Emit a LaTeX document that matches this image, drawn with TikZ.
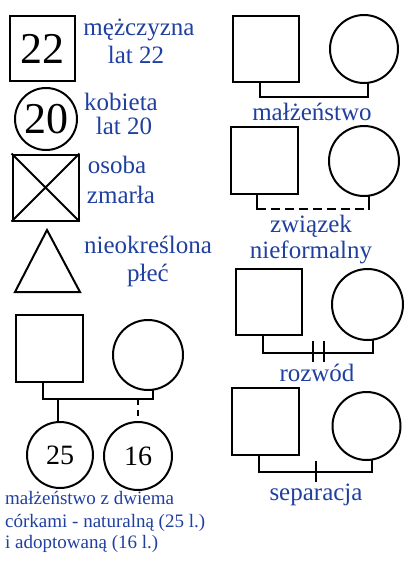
\documentclass[tikz,border=0pt]{standalone}
\usepackage{fontspec}
\setmainfont{Liberation Serif}
\usetikzlibrary{positioning}
\definecolor{plblue}{RGB}{32,64,160}

\begin{document}
\begin{tikzpicture}[x=1pt, y=-1pt,
  male/.style={draw, line width=2pt, minimum size=#1, inner sep=0pt},
  female/.style={draw, circle, line width=2pt, minimum size=#1, inner sep=0pt},
  link/.style={line width=2.6pt, line cap=rect},
  lbl/.style={text=plblue, anchor=base, inner sep=0pt, font=\fontsize{25}{28}\selectfont},
  note/.style={text=plblue, anchor=base west, inner sep=0pt, font=\fontsize{19}{22}\selectfont}]
\useasboundingbox (0,0) rectangle (410,568);
\node[male=65pt, font=\fontsize{44}{44}\selectfont] (m22) at (42.5,48.5) {22};
\node[female=62pt, font=\fontsize{44}{44}\selectfont] (f20) at (46,119) {20};
\node[male=66pt] (dead) at (45.5,187.5) {};
\draw[line width=2pt] (dead.north west) -- (dead.south east) (dead.north east) -- (dead.south west);
\draw[line width=2pt] (47,230) -- (80,292) -- (15,292) -- cycle;
\node[lbl] (t1) at (139,35) {mężczyzna};
\node[lbl] (t2) at (136,63) {lat 22};
\node[lbl] (t3) at (121,110) {kobieta};
\node[lbl] (t4) at (124,134) {lat 20};
\node[lbl] (t5) at (117,173) {osoba};
\node[lbl] (t6) at (121,203) {zmarła};
\node[lbl] (t7) at (148,253) {nieokreślona};
\node[lbl] (t8) at (148,281) {płeć};

\node[male=66pt] (m1) at (266,49) {};
\node[female=68pt] (f1) at (364,49) {};
\coordinate (a1) at (260,97);
\coordinate (b1) at (368,97);
\draw[link] (a1 |- m1.south) -- (a1) -- (b1) -- (b1 |- f1.south);
\node[lbl] (r1) at (312,120) {małżeństwo};

\node[male=67pt] (m2) at (264.5,160) {};
\node[female=70pt] (f2) at (364,161) {};
\coordinate (a2) at (257,209);
\coordinate (b2) at (369,209);
\draw[link] (a2 |- m2.south) -- (a2);
\draw[link] (b2 |- f2.south) -- (b2);
\draw[link, line cap=butt, dash pattern=on 9pt off 5pt] (a2) -- (b2);
\node[lbl] (r2) at (311,232) {związek};
\node[lbl] (r3) at (311,258) {nieformalny};

\node[male=66pt] (m3) at (269,302) {};
\node[female=71pt] (f3) at (367.5,304.5) {};
\coordinate (a3) at (263,353);
\coordinate (b3) at (373,353);
\coordinate (d3) at (318.5,353);
\draw[link] (a3 |- m3.south) -- (a3) -- (b3) -- (b3 |- f3.south);
\draw[link, line cap=butt] ([xshift=-5.5pt, yshift=12pt]d3) -- ([xshift=-5.5pt, yshift=-9pt]d3)
  ([xshift=5.5pt, yshift=12pt]d3) -- ([xshift=5.5pt, yshift=-9pt]d3);
\node[lbl] (r4) at (317,381) {rozwód};

\node[male=67pt] (m4) at (265.5,421.5) {};
\node[female=68pt] (f4) at (366.5,426) {};
\coordinate (a4) at (259,472);
\coordinate (b4) at (372,472);
\coordinate (s4) at (316,472);
\draw[link] (a4 |- m4.south) -- (a4) -- (b4) -- (b4 |- f4.south);
\draw[link, line cap=butt] ([yshift=11pt]s4) -- ([yshift=-10pt]s4);
\node[lbl] (r5) at (316,500) {separacja};

\node[male=67pt] (mf) at (49.5,348.5) {};
\node[female=70pt] (ff) at (148,355) {};
\node[female=66pt, font=\fontsize{28}{28}\selectfont] (k1) at (60,455) {25};
\node[female=68pt, font=\fontsize{28}{28}\selectfont] (k2) at (138,456) {16};
\coordinate (a5) at (43,399);
\coordinate (b5) at (153,399);
\coordinate (c5) at (58,399);
\coordinate (d5) at (138,399);
\draw[link] (a5 |- mf.south) -- (a5) -- (b5) -- (b5 |- ff.south);
\draw[link] (c5) -- (c5 |- k1.north);
\draw[link, line cap=butt, dash pattern=on 6pt off 5pt] (d5) -- (d5 |- k2.north);
\node[note] (n1) at (5,504) {małżeństwo z dwiema};
\node[note] (n2) at (5,527) {córkami - naturalną (25 l.)};
\node[note] (n3) at (5,548) {i adoptowaną (16 l.)};
\end{tikzpicture}
\end{document}
